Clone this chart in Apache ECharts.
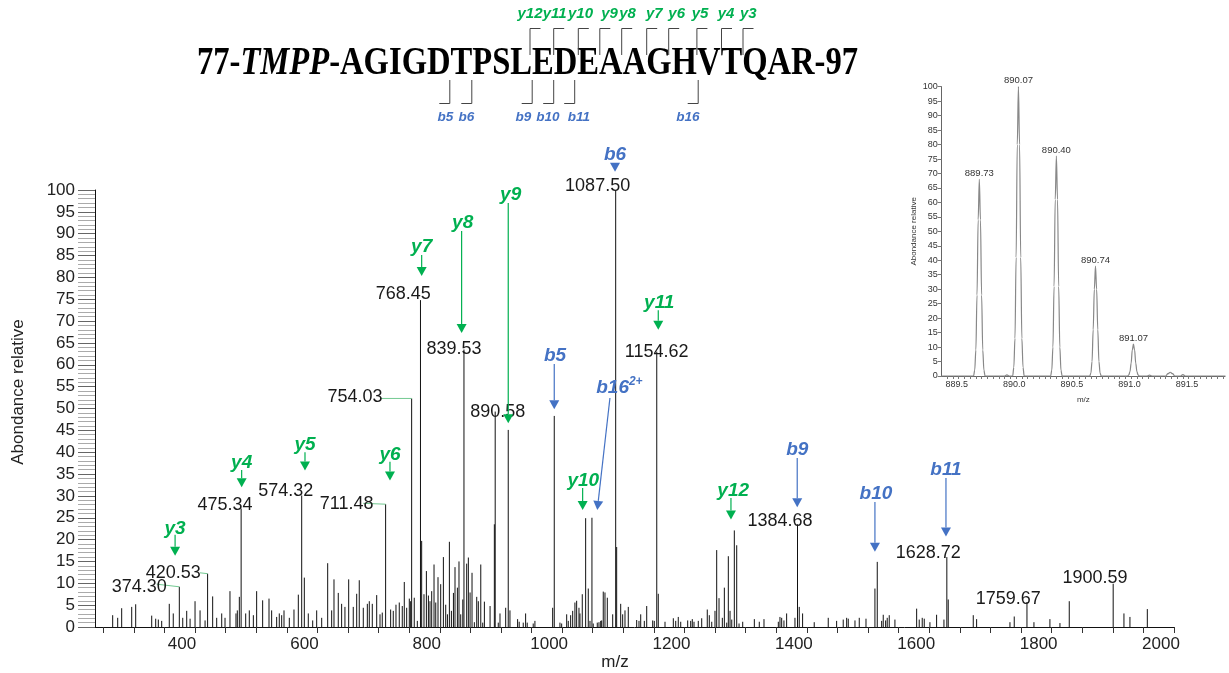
<!DOCTYPE html>
<html><head><meta charset="utf-8">
<script src="https://cdn.jsdelivr.net/npm/echarts@6/dist/echarts.min.js"></script>
<style>html,body{margin:0;padding:0;background:#fff}#c{width:1229px;height:673px}</style>
</head><body><div id="c"></div>
<script>
// ---------------- DATA ----------------
const spectrumMz = [
265.4,273.6,280.1,296.5,303.0,329.2,335.7,340.0,345.5,357.9,364.4,374.30,379.9,386.4,391.9,400.0,408.2,416.4,420.53,428.8,
435.4,443.6,449.0,457.1,466.9,469.1,472.4,475.34,482.8,488.7,495.3,500.7,510.5,520.9,525.2,533.4,537.7,541.6,545.4,554.1,
561.7,568.8,574.32,578.6,585.1,592.3,598.8,607.0,616.8,623.3,627.1,634.1,639.6,645.0,651.1,658.6,664.2,668.4,675.0,681.6,
684.8,689.7,696.9,702.3,706.0,711.48,719.7,724.0,728.4,733.8,738.7,742.0,745.9,750.2,752.4,754.03,758.3,763.3,768.45,770.4,
774.2,778.1,781.4,784.0,786.8,790.6,793.4,797.1,801.5,805.9,809.7,812.5,815.7,819.0,822.3,824.9,828.8,831.4,834.2,837.6,
839.53,844.0,846.7,849.5,852.7,856.5,860.4,863.0,867.0,870.2,872.9,882.2,889.2,890.58,895.6,898.4,907.7,911.9,914.7,927.2,
929.8,936.4,940.3,942.9,952.7,955.5,984.5,987.1,996.4,999.2,1007.4,1010.0,1013.9,1017.2,1020.9,1023.7,1027.5,1029.1,1032.9,1038.4,
1042.7,1045.5,1048.7,1050.8,1057.4,1060.2,1063.0,1064.6,1067.2,1070.0,1073.8,1082.6,1087.50,1089.1,1095.7,1098.9,1102.7,1108.1,1121.8,1125.6,
1128.4,1134.3,1138.2,1148.0,1150.6,1154.62,1157.1,1168.1,1181.7,1185.6,1189.8,1193.8,1205.2,1210.1,1212.7,1215.5,1222.5,1228.1,1237.2,1240.5,
1244.5,1249.8,1252.6,1256.4,1261.8,1265.1,1269.0,1271.6,1274.4,1277.2,1281.4,1285.3,1289.1,1295.1,1314.1,1322.2,1329.9,1353.3,1356.0,1358.8,
1362.5,1366.9,1380.5,1384.68,1387.5,1393.0,1412.0,1434.9,1448.6,1459.4,1465.0,1467.6,1478.6,1485.6,1496.6,1511.2,1515.0,1522.2,1524.8,1528.7,
1531.3,1534.6,1543.9,1579.4,1583.6,1588.5,1591.8,1601.1,1612.0,1624.0,1628.72,1631.0,1671.9,1677.4,1731.9,1738.9,1759.67,1771.1,1797.2,1813.6,
1828.8,1900.59,1918.2,1928.0,1956.4];
const spectrumAbundance = [
2.7,2.1,4.3,4.6,5.2,2.6,1.9,1.7,1.4,5.3,3.1,9.2,2.1,3.7,1.9,5.9,3.8,1.5,12.2,7.0,
2.1,3.1,2.1,8.2,3.1,3.8,6.9,27.1,3.1,3.8,2.7,8.2,6.1,6.5,3.8,2.3,3.1,2.7,3.8,2.1,
4.0,7.4,30.1,11.3,3.1,1.5,3.8,2.1,14.6,3.8,10.9,7.8,5.3,4.6,10.9,4.6,7.6,10.7,4.4,5.3,
5.9,5.3,7.3,2.9,3.3,28.1,4.0,3.7,5.1,5.6,4.8,10.3,4.4,6.5,5.9,52.3,6.7,1.4,74.8,19.7,
7.5,12.8,7.2,5.9,8.2,14.3,5.6,11.4,9.8,16.0,5.1,2.9,19.5,3.7,7.8,13.7,9.0,15.0,2.9,6.3,
63.5,14.5,15.9,7.9,12.4,1.1,6.9,5.9,14.3,1.0,5.8,4.8,23.5,49.3,1.0,3.1,4.4,45.1,3.8,1.8,
1.2,1.0,3.1,1.0,0.8,1.4,4.4,48.3,1.0,0.8,2.9,1.4,2.7,3.7,5.6,6.0,4.4,3.1,7.5,24.9,
8.8,1.4,25.0,0.8,1.0,1.1,1.4,1.5,8.1,7.9,6.7,2.9,100,18.3,5.3,2.9,3.8,4.6,1.6,1.4,
2.9,1.4,4.8,1.5,1.4,63.0,7.6,1.2,2.0,1.4,2.3,1.2,1.5,1.4,1.8,1.2,1.4,2.0,4.0,2.7,
1.2,3.7,17.6,6.6,2.1,9.0,1.0,16.2,3.7,1.7,22.1,18.7,0.8,1.2,1.8,1.2,1.8,1.2,2.3,2.1,
1.5,3.1,2.1,23.5,4.6,3.1,1.1,2.1,1.4,1.7,2.1,1.9,1.5,2.1,1.9,8.8,14.9,1.4,2.8,1.5,
2.1,2.7,1.7,4.2,1.7,2.1,1.9,1.1,2.8,1.7,16.0,6.3,2.7,1.8,1.1,2.4,5.7,1.1,1.8,0.9,
5.9,9.9,3.1,2.3,4.1];

// labelled peaks (m/z text shown above them)
const labeledPeakMz = [374.30,420.53,475.34,574.32,711.48,754.03,768.45,839.53,890.58,1087.50,1154.62,1384.68,1628.72,1759.67,1900.59];

// fragment ion annotations
const ionNames = ['y3','y4','y5','y6','y7','y8','y9','y10','y11','y12','b5','b6','b9','b10','b11','b16'];
const ionTipMz = [367.4,476.2,579.7,718.6,770.4,835.7,911.9,1033.5,1157.1,1275.9,987.1,1086.4,1384.2,1511.2,1627.3,1057.4];
const ionTipAbundance = [16.3,32.0,35.8,33.5,80.3,67.3,46.6,26.8,68.0,24.6,49.8,104.2,27.4,17.2,20.7,26.8];

// tick labels
const xTickLabels = [400,600,800,1000,1200,1400,1600,1800,2000];
const insetXTickLabels = [889.5,890.0,890.5,891.0,891.5];

// inset isotope cluster (profile)
const insetPeakMz = [889.73,890.07,890.40,890.74,891.07];
const insetPeakAbundance = [68,100,76,38,11];
const insetProfile = [
[889.40,0],[889.68,0],[889.69,2],[889.70,9],[889.71,28],[889.72,54],[889.73,68],[889.74,54],[889.75,28],[889.76,9],[889.77,2],[889.78,0],
[889.95,0],[889.97,0.4],[889.99,0],
[890.02,0],[890.03,3],[890.04,13],[890.05,41],[890.06,80],[890.07,100],[890.08,80],[890.09,41],[890.10,13],[890.11,3],[890.12,0],
[890.35,0],[890.36,2],[890.37,10],[890.38,31],[890.39,61],[890.40,76],[890.41,61],[890.42,31],[890.43,10],[890.44,2],[890.45,0],
[890.69,0],[890.70,1],[890.71,5],[890.72,16],[890.73,30],[890.74,38],[890.75,30],[890.76,16],[890.77,5],[890.78,1],[890.79,0],
[891.02,0],[891.03,0.4],[891.04,1.5],[891.05,4.5],[891.06,9],[891.07,11],[891.08,9],[891.09,4.5],[891.10,1.5],[891.11,0.4],[891.12,0],
[891.19,0],[891.21,0.3],[891.23,0],
[891.35,0],[891.37,0.8],[891.39,1.3],[891.41,0.8],[891.43,0],
[891.48,0],[891.50,0.5],[891.52,0],[891.87,0]];

// ---------------- LAYOUT (annotation anchors, in data units) ----------------
const peakLabelAt = [[308.9,9.2],[364.4,12.3],[448.9,27.9],[548.1,31.2],[647.8,28.1],[661.4,52.6],[740.3,76.2],[823.2,63.5],[894.6,49.3],[1058.0,101.0],[1154.5,63.0],[1356.0,24.3],[1598.3,17.0],[1729.1,6.3],[1870.8,11.1]];
const peakLeaderFrom = [[337.3,9.8],[408.1,12.4],null,null,[675.0,28.3],[702.3,52.3],null,null,null,null,null,null,null,null,null];
const ionLabelAt = [[367.4,22.4],[476.2,37.6],[579.7,41.8],[718.6,39.4],[770.4,86.9],[837.4,92.5],[915.8,98.9],[1034.5,33.5],[1158.7,74.3],[1279.6,31.2],[988.3,62.0],[1086.4,108.0],[1384.2,40.5],[1512.8,30.4],[1627.3,35.9],[1093.6,55.0]];
const ionTailAt = [[367.4,21.1],[476.2,35.9],[579.7,40.0],[718.6,37.8],[770.4,85.1],[835.7,90.6],[911.9,97.0],[1033.5,31.8],[1157.1,72.5],[1275.9,29.5],[987.1,60.2],[1086.4,105.5],[1384.2,38.7],[1511.2,28.6],[1627.3,34.1],[1078.1,52.4]];

const GREEN = '#00B050', BLUE = '#4472C4', LEADER = '#72c991';
const SANS = '"Liberation Sans", Arial, sans-serif';

const abundanceOf = m => spectrumAbundance[spectrumMz.indexOf(m)];

// ---------------- header (sequence with fragmentation marks) ----------------
const yBrackets = [530.0,553.7,578.3,599.8,621.7,646.7,668.7,696.9,721.5,743.0];
const yLabelX = [530,554.6,580.5,609.6,627.5,654.3,676.7,700,726,748.3];
const yLabelText = ['y12','y11','y10','y9','y8','y7','y6','y5','y4','y3'];
const bBrackets = [449.8,471.8,532.2,553.7,574.7,698.2];
const bLabelX = [445.5,466.4,523.5,548.0,579.0,688.0];
const bLabelText = ['b5','b6','b9','b10','b11','b16'];

const graphics = [];
graphics.push({type:'text', x:197, y:64, scaleX:0.815, scaleY:1,
  style:{text:'77-{i|TMPP}-AGIGDTPSLEDEAAGHVTQAR-97', fill:'#000', fontSize:40, fontWeight:'bold',
    fontFamily:'"Liberation Serif", "Times New Roman", serif', align:'left', verticalAlign:'middle',
    rich:{i:{fontStyle:'italic', fontWeight:'bold', fontSize:40, fontFamily:'"Liberation Serif", "Times New Roman", serif', fill:'#000'}}}});
yBrackets.forEach(x=>graphics.push({type:'polyline', shape:{points:[[x,55],[x,28.5],[x+10.5,28.5]]}, style:{stroke:'#444', lineWidth:1, fill:null}}));
bBrackets.forEach(x=>graphics.push({type:'polyline', shape:{points:[[x,80],[x,103.5],[x-10.5,103.5]]}, style:{stroke:'#444', lineWidth:1, fill:null}}));
yLabelText.forEach((t,i)=>graphics.push({type:'text', x:yLabelX[i], y:14, style:{text:t, fill:GREEN, font:'italic bold 15px '+SANS, align:'center', verticalAlign:'middle'}}));
bLabelText.forEach((t,i)=>graphics.push({type:'text', x:bLabelX[i], y:117, style:{text:t, fill:BLUE, font:'italic bold 13.5px '+SANS, align:'center', verticalAlign:'middle'}}));
// axis titles of main chart
graphics.push({type:'text', x:18, y:392, rotation:Math.PI/2, style:{text:'Abondance relative', fill:'#222', font:'17px '+SANS, align:'center', verticalAlign:'middle'}});
graphics.push({type:'text', x:615, y:662, style:{text:'m/z', fill:'#222', font:'17px '+SANS, align:'center', verticalAlign:'middle'}});

// ---------------- ticks ----------------
const xTickValues = []; for (let v = 250; v <= 2000; v += 50) xTickValues.push(v);
const insetTickValues = []; for (let k = 0; k <= 48; k++) insetTickValues.push(+(889.45 + k*0.05).toFixed(2));

// ---------------- render functions ----------------
function renderPeak(params, api) {
  const base = api.coord([api.value(0), 0]);
  const top = api.coord([api.value(0), api.value(1)]);
  return {type:'line', shape:{x1:base[0], y1:base[1], x2:top[0], y2:top[1]}, style:{stroke:'#111', lineWidth:1}};
}
function renderPeakLabel(params, api) {
  const i = params.dataIndex;
  const m = labeledPeakMz[i];
  const lp = api.coord(peakLabelAt[i]);
  const children = [];
  if (peakLeaderFrom[i]) {
    const a = api.coord(peakLeaderFrom[i]);
    const b = api.coord([m, abundanceOf(m)]);
    children.push({type:'line', shape:{x1:a[0], y1:a[1], x2:b[0], y2:b[1]}, style:{stroke:LEADER, lineWidth:1}});
  }
  children.push({type:'text', x:lp[0], y:lp[1], style:{text:m.toFixed(2), fill:'#1a1a1a', font:'18px '+SANS, align:'center', verticalAlign:'middle'}});
  return {type:'group', children};
}
function renderIon(params, api) {
  const i = params.dataIndex;
  const name = ionNames[i];
  const color = name[0] === 'y' ? GREEN : BLUE;
  const lab = api.coord(ionLabelAt[i]);
  const tail = api.coord(ionTailAt[i]);
  const tip = api.coord([ionTipMz[i], ionTipAbundance[i]]);
  let dx = tip[0]-tail[0], dy = tip[1]-tail[1];
  let len = Math.hypot(dx, dy);
  let ux = 0, uy = 1;
  if (len > 0.5) { ux = dx/len; uy = dy/len; }
  const hl = 9, hw = 5;
  const bx = tip[0]-ux*hl, by = tip[1]-uy*hl;
  const children = [];
  if (len > hl) children.push({type:'line', shape:{x1:tail[0], y1:tail[1], x2:bx, y2:by}, style:{stroke:color, lineWidth:1.2}});
  children.push({type:'polygon', shape:{points:[[tip[0],tip[1]],[bx-uy*hw, by+ux*hw],[bx+uy*hw, by-ux*hw]]}, style:{fill:color}});
  const textStyle = name === 'b16'
    ? {text:'{n|b16}{s|2+}', align:'center', verticalAlign:'middle', rich:{
        n:{fill:color, fontSize:19, fontWeight:'bold', fontStyle:'italic', fontFamily:SANS, verticalAlign:'bottom', lineHeight:22},
        s:{fill:color, fontSize:12, fontWeight:'bold', fontStyle:'italic', fontFamily:SANS, verticalAlign:'top', lineHeight:22}}}
    : {text:name, fill:color, font:'italic bold 19px '+SANS, align:'center', verticalAlign:'middle'};
  children.push({type:'text', x:lab[0], y:lab[1], style:textStyle});
  return {type:'group', children};
}
function renderInsetLabel(params, api) {
  const p = api.coord([api.value(0), api.value(1)]);
  return {type:'text', x:p[0], y:p[1]-1, style:{text:api.value(0).toFixed(2), fill:'#333', font:'9.5px '+SANS, align:'center', verticalAlign:'bottom'}};
}

// ---------------- option ----------------
const option = {
  animation:false,
  backgroundColor:'#fff',
  graphic: graphics,
  grid:[
    {left:95, right:55, top:190, bottom:46},
    {left:941.7, right:4, top:86.7, bottom:297}
  ],
  xAxis:[
    {type:'value', gridIndex:0, min:236.5, max:2000,
     axisLine:{show:true, onZero:false, lineStyle:{color:'#111', width:1}},
     axisTick:{show:true, customValues:xTickValues, length:6, lineStyle:{color:'#333'}},
     axisLabel:{customValues:xTickLabels, formatter:v=>String(Math.round(v)), color:'#222', fontSize:17, fontFamily:SANS, margin:9, padding:[0,26,0,0]},
     splitLine:{show:false}},
    {type:'value', gridIndex:1, min:889.403, max:891.866,
     name:'m/z', nameLocation:'middle', nameGap:20, nameTextStyle:{fontSize:8, color:'#333', fontFamily:SANS},
     axisLine:{show:true, onZero:false, lineStyle:{color:'#666', width:1}},
     axisTick:{show:true, customValues:insetTickValues, length:3, lineStyle:{color:'#777'}},
     axisLabel:{customValues:insetXTickLabels, formatter:v=>v.toFixed(1), color:'#333', fontSize:9, fontFamily:SANS, margin:4, padding:[0,0,0,8]},
     splitLine:{show:false}}
  ],
  yAxis:[
    {type:'value', gridIndex:0, min:0, max:100, interval:5,
     axisLine:{show:true, lineStyle:{color:'#111', width:1}},
     axisTick:{show:true, length:17, lineStyle:{color:'#666'}},
     minorTick:{show:true, splitNumber:5, length:17, lineStyle:{color:'#aaa'}},
     axisLabel:{color:'#222', fontSize:17, fontFamily:SANS, margin:20},
     splitLine:{show:false}},
    {type:'value', gridIndex:1, min:0, max:100, interval:5,
     name:'Abondance relative', nameLocation:'middle', nameGap:24, nameTextStyle:{fontSize:8, color:'#333', fontFamily:SANS},
     axisLine:{show:true, lineStyle:{color:'#666', width:1}},
     axisTick:{show:true, length:4, lineStyle:{color:'#777'}},
     axisLabel:{color:'#333', fontSize:9, fontFamily:SANS, margin:4},
     splitLine:{show:false}}
  ],
  series:[
    {type:'custom', xAxisIndex:0, yAxisIndex:0, clip:false, z:2,
     data: spectrumMz.map((m,i)=>[m, spectrumAbundance[i]]), renderItem:renderPeak},
    {type:'custom', xAxisIndex:0, yAxisIndex:0, clip:false, z:4,
     data: labeledPeakMz.map(m=>[m, abundanceOf(m)]), renderItem:renderPeakLabel},
    {type:'custom', xAxisIndex:0, yAxisIndex:0, clip:false, z:5,
     data: ionNames.map((n,i)=>[ionTipMz[i], ionTipAbundance[i]]), renderItem:renderIon},
    {type:'line', xAxisIndex:1, yAxisIndex:1, data:insetProfile, showSymbol:false, smooth:0.35, smoothMonotone:'x',
     lineStyle:{color:'#888', width:1.2}, z:2},
    {type:'custom', xAxisIndex:1, yAxisIndex:1, clip:false, z:3,
     data: insetPeakMz.map((m,i)=>[m, insetPeakAbundance[i]]), renderItem:renderInsetLabel}
  ]
};
const chart = echarts.init(document.getElementById('c'), null, {renderer:'canvas'});
chart.setOption(option);
</script>
</body></html>
